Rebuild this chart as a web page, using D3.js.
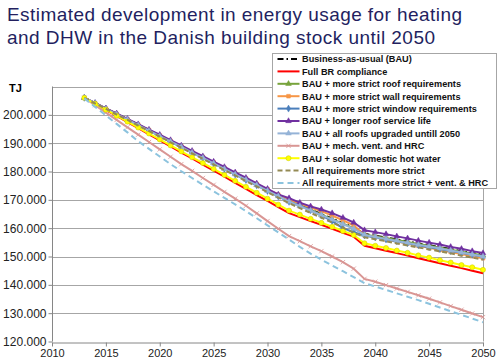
<!DOCTYPE html>
<html>
<head>
<meta charset="utf-8">
<script src="https://cdn.jsdelivr.net/npm/d3@7"></script>
<style>
  body { margin: 0; background: #fff; }
  svg { display: block; font-family: "Liberation Sans", Arial, sans-serif; }
</style>
</head>
<body>
<div id="chart"></div>
<script>
// values in 1000 TJ, one per year 2013..2050
const years = [2013, 2014, 2015, 2016, 2017, 2018, 2019, 2020, 2021, 2022, 2023, 2024, 2025, 2026, 2027, 2028, 2029, 2030, 2031, 2032,
    2033, 2034, 2035, 2036, 2037, 2038, 2039, 2040, 2041, 2042, 2043, 2044, 2045, 2046, 2047, 2048, 2049, 2050];
const xTicks = [2010, 2015, 2020, 2025, 2030, 2035, 2040, 2045, 2050];
const yTicks = [120, 130, 140, 150, 160, 170, 180, 190, 200];
const yGrid = [130, 140, 150, 160, 170, 180, 190, 200, 210];

const bau = [206.0, 204.1, 202.2, 200.3, 198.4, 196.5, 194.6, 192.7, 190.8, 188.9, 186.9, 185.0, 183.1, 181.2, 179.3, 177.4, 175.5, 173.6, 171.7, 169.8,
    168.2, 166.6, 165.0, 163.4, 161.8, 160.2, 158.0, 157.3, 156.7, 156.0, 155.3, 154.6, 154.0, 153.3, 152.6, 151.9, 151.3, 150.6];
const fullBR = [206.0, 203.9, 201.7, 199.6, 197.4, 195.3, 193.1, 191.0, 188.9, 186.7, 184.6, 182.4, 180.3, 178.2, 176.0, 173.9, 171.7, 169.6, 167.4, 165.3,
    163.9, 162.5, 161.2, 159.8, 158.4, 157.0, 153.8, 152.9, 152.0, 151.2, 150.3, 149.4, 148.5, 147.6, 146.7, 145.9, 145.0, 144.1];
const roof = [206.0, 204.1, 202.2, 200.3, 198.3, 196.4, 194.5, 192.6, 190.7, 188.8, 186.8, 184.9, 183.0, 181.1, 179.2, 177.3, 175.3, 173.4, 171.5, 169.6,
    168.0, 166.4, 164.8, 163.2, 161.6, 160.0, 157.8, 157.1, 156.5, 155.8, 155.1, 154.4, 153.8, 153.1, 152.4, 151.7, 151.1, 150.4];
const wall = [206.0, 204.1, 202.2, 200.3, 198.4, 196.5, 194.6, 192.7, 190.8, 188.9, 187.0, 185.1, 183.2, 181.3, 179.4, 177.5, 175.6, 173.7, 171.8, 169.9,
    168.6, 167.3, 166.0, 164.4, 162.8, 161.0, 157.5, 156.8, 156.0, 155.3, 154.6, 153.8, 153.1, 152.3, 151.6, 150.9, 150.1, 149.4];
const windows = [206.0, 204.1, 202.1, 200.2, 198.3, 196.3, 194.4, 192.5, 190.5, 188.6, 186.7, 184.7, 182.8, 180.9, 178.9, 177.0, 175.1, 173.1, 171.2, 169.3,
    168.0, 166.3, 164.5, 162.5, 160.0, 158.6, 157.4, 156.7, 156.0, 155.4, 154.7, 154.0, 153.3, 152.6, 151.9, 151.3, 150.6, 149.9];
const roofLife = [206.0, 204.2, 202.3, 200.5, 198.6, 196.7, 194.8, 193.0, 191.1, 189.2, 187.3, 185.4, 183.5, 181.6, 179.7, 177.8, 175.8, 173.9, 171.9, 170.6,
    169.0, 167.7, 166.6, 165.3, 163.7, 162.0, 159.3, 158.6, 157.9, 157.1, 156.4, 155.6, 154.9, 154.2, 153.4, 152.7, 151.9, 151.2];
const allRoofs = [206.0, 204.1, 202.1, 200.2, 198.3, 196.4, 194.4, 192.5, 190.6, 188.7, 186.7, 184.8, 182.9, 180.9, 179.0, 177.1, 175.2, 173.2, 171.3, 169.4,
    167.8, 166.2, 164.6, 163.0, 161.4, 159.8, 157.6, 156.9, 156.2, 155.5, 154.8, 154.1, 153.5, 152.8, 152.1, 151.4, 150.7, 150.0];
const mechVent = [206.0, 203.4, 200.8, 198.2, 195.6, 193.0, 190.4, 187.8, 185.2, 182.6, 180.2, 177.7, 175.3, 172.8, 170.4, 167.9, 165.2, 162.5, 159.8, 157.2,
    155.4, 153.6, 151.9, 150.0, 148.0, 145.7, 142.1, 141.1, 139.9, 138.7, 137.5, 136.3, 135.1, 133.8, 132.5, 131.2, 129.9, 128.6];
const solarDHW = [206.0, 203.9, 201.8, 199.7, 197.6, 195.5, 193.4, 191.3, 189.2, 187.1, 185.0, 183.0, 180.9, 178.8, 176.7, 174.6, 172.5, 170.4, 168.3, 166.2,
    164.8, 163.3, 161.9, 160.5, 159.0, 157.6, 154.7, 153.8, 153.0, 152.1, 151.3, 150.4, 149.6, 148.7, 147.9, 147.0, 146.2, 145.3];
const allStrict = [206.0, 204.0, 202.1, 200.1, 198.2, 196.2, 194.3, 192.3, 190.3, 188.4, 186.4, 184.5, 182.5, 180.5, 178.6, 176.6, 174.7, 172.7, 170.8, 168.8,
    167.1, 165.4, 163.7, 162.0, 160.2, 158.4, 156.8, 156.1, 155.4, 154.6, 153.9, 153.2, 152.5, 151.8, 151.1, 150.3, 149.6, 148.9];
const allStrictVent = [205.8, 202.8, 199.8, 196.8, 193.8, 190.7, 188.0, 185.3, 182.6, 180.1, 177.7, 175.3, 173.0, 170.7, 168.4, 166.0, 163.5, 161.0, 158.5, 156.0,
    153.4, 151.0, 148.9, 146.8, 144.8, 142.7, 140.6, 139.4, 138.2, 137.0, 135.8, 134.6, 133.3, 132.0, 130.7, 129.4, 128.1, 126.8];

const series = [
    { name: "Business-as-usual (BAU)", values: bau, color: "#000000", dash: "6,3,1.5,3", marker: null },
    { name: "Full BR compliance", values: fullBR, color: "#ff0000", dash: null, marker: null },
    { name: "BAU + more strict roof requirements", values: roof, color: "#77a33b", dash: null, marker: d3.symbolTriangle },
    { name: "BAU + more strict wall requirements", values: wall, color: "#f79646", dash: null, marker: d3.symbolSquare },
    { name: "BAU + more strict window requirements", values: windows, color: "#4a7ebb", dash: null, marker: d3.symbolDiamond },
    { name: "BAU + longer roof service life", values: roofLife, color: "#7030a0", dash: null, marker: d3.symbolTriangle },
    { name: "BAU + all roofs upgraded untill 2050", values: allRoofs, color: "#95b3d7", dash: null, marker: d3.symbolTriangle },
    { name: "BAU + mech. vent. and HRC", values: mechVent, color: "#d99694", dash: null, marker: d3.symbolTimes },
    { name: "BAU + solar domestic hot water", values: solarDHW, color: "#ffff00", dash: null, marker: d3.symbolCircle },
    { name: "All requirements more strict", values: allStrict, color: "#948a54", dash: "5,3", marker: null },
    { name: "All requirements more strict + vent. & HRC", values: allStrictVent, color: "#8cc3de", dash: "6,4", marker: null },
];

const width = 500, height = 361;
const svg = d3.select("#chart").append("svg")
    .attr("width", width)
    .attr("height", height);

const x = d3.scaleLinear().domain([2010, 2050]).range([52, 483]);
const y = d3.scaleLinear().domain([120, 210]).range([341.5, 86.5]);

// title
const title = svg.append("g").attr("fill", "#231f5f").style("font-size", "19px");
title.append("text").attr("x", 7).attr("y", 21)
    .attr("textLength", 455).attr("lengthAdjust", "spacing")
    .text("Estimated development in energy usage for heating");
title.append("text").attr("x", 7).attr("y", 44)
    .attr("textLength", 428).attr("lengthAdjust", "spacing")
    .text("and DHW in the Danish building stock until 2050");

// gridlines
svg.append("g").selectAll("line").data(yGrid).join("line")
    .attr("x1", x(2010)).attr("x2", x(2050))
    .attr("y1", (d) => Math.round(y(d)) + 0.5).attr("y2", (d) => Math.round(y(d)) + 0.5)
    .attr("stroke", "#a6a6a6");

// y axis
const yAxis = svg.append("g")
    .attr("transform", `translate(${Math.round(x(2010)) + 0.5},0)`)
    .call(d3.axisLeft(y).tickValues(yTicks).tickSize(4).tickSizeOuter(0)
        .tickFormat((d) => `${d}.000`));
yAxis.select(".domain").attr("stroke", "#868686").attr("d", `M0,${y(210)}V${y(120)}`);
yAxis.selectAll(".tick line").attr("stroke", "#868686");
yAxis.selectAll(".tick text").attr("x", -6).attr("fill", "#222")
    .style("font-size", "12px").style("font-family", "Liberation Sans, Arial, sans-serif");

// x axis
const xAxis = svg.append("g")
    .attr("transform", `translate(0,${Math.round(y(120)) + 0.5})`)
    .call(d3.axisBottom(x).tickValues(xTicks).tickSize(4).tickSizeOuter(0).tickFormat(d3.format("d")));
xAxis.select(".domain").attr("stroke", "#868686");
xAxis.selectAll(".tick line").attr("stroke", "#868686");
xAxis.selectAll(".tick text").attr("y", 7).attr("fill", "#222")
    .style("font-size", "11px").style("font-family", "Liberation Sans, Arial, sans-serif");

// right border of plot area
svg.append("line")
    .attr("x1", Math.round(x(2050)) + 0.5).attr("x2", Math.round(x(2050)) + 0.5)
    .attr("y1", y(210)).attr("y2", y(120))
    .attr("stroke", "#a6a6a6");

svg.append("text").attr("x", 9).attr("y", 92)
    .style("font-size", "11px").style("font-weight", "bold")
    .text("TJ");

// series lines + markers
const line = d3.line().x((d, i) => x(years[i])).y((d) => y(d));

function drawMarker(g, s, cx, cy) {
    if (!s.marker) return;
    const isCircle = s.marker === d3.symbolCircle;
    const isTimes = s.marker === d3.symbolTimes;
    g.append("path")
        .attr("transform", `translate(${cx},${cy})`)
        .attr("d", d3.symbol(s.marker, isCircle ? 20 : 14)())
        .attr("fill", isTimes ? "none" : s.color)
        .attr("stroke", isCircle ? "#c8c800" : s.color)
        .attr("stroke-width", isTimes ? 0.8 : 0.5);
}

series.forEach((s) => {
    const g = svg.append("g");
    g.append("path")
        .attr("d", line(s.values))
        .attr("fill", "none")
        .attr("stroke", s.color)
        .attr("stroke-width", 2)
        .attr("stroke-dasharray", s.dash)
        .attr("stroke-linejoin", "round");
    s.values.forEach((v, i) => drawMarker(g, s, x(years[i]), y(v)));
});

// legend
const legend = svg.append("g").attr("transform", "translate(272.5,53.5)");
legend.append("rect")
    .attr("width", 224).attr("height", 135)
    .attr("fill", "#fff").attr("stroke", "#a6a6a6");
series.forEach((s, i) => {
    const cy = 5.5 + i * 12.4;
    const row = legend.append("g");
    row.append("line")
        .attr("x1", 5).attr("x2", 27).attr("y1", cy).attr("y2", cy)
        .attr("stroke", s.color).attr("stroke-width", 2)
        .attr("stroke-dasharray", s.dash);
    drawMarker(row, s, 16, cy);
    row.append("text")
        .attr("x", 29.5).attr("y", cy + 3.3)
        .style("font-size", "9.2px").style("font-weight", "bold")
        .attr("fill", "#111")
        .text(s.name);
});
</script>
</body>
</html>
